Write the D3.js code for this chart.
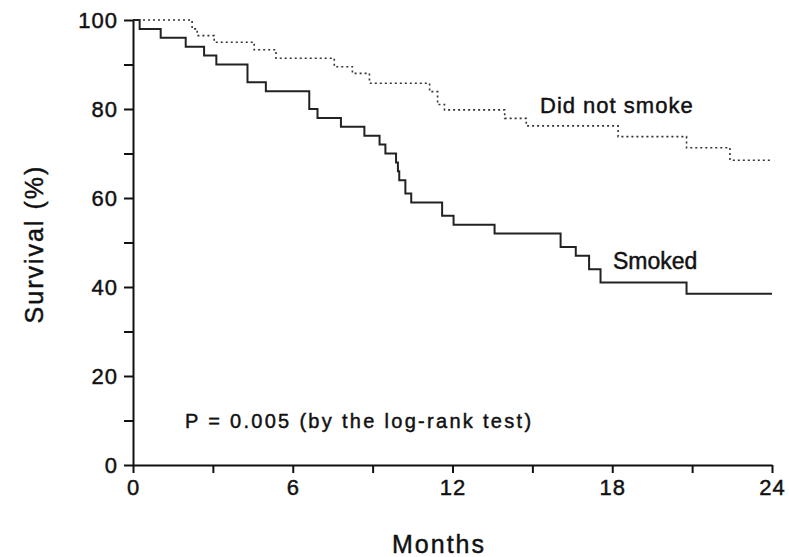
<!DOCTYPE html>
<html>
<head>
<meta charset="utf-8">
<script src="https://cdn.jsdelivr.net/npm/d3@7"></script>
<style>
   body { margin: 0; background: #fff; }
   text { font-family: "Liberation Sans", Arial, sans-serif; fill: #111; stroke: #111; stroke-width: 0.45px; }
</style>
</head>
<body>
<script>
'use strict';

// Kaplan-Meier steps (months, % surviving)
var smokedMonths   = [0, 0.25, 1.04, 1.98, 2.67, 3.13, 4.30, 4.99, 6.62, 6.93, 7.81, 8.69, 9.26, 9.48, 9.88, 9.95, 10.0, 10.23, 10.45, 11.61, 12.04, 13.58, 16.06, 16.63, 17.13, 17.56, 20.79, 24];
var smokedSurvival = [100, 98, 96, 94, 92, 90, 86, 84, 80, 78, 76, 74, 72, 70, 68, 66, 64, 61, 59, 56, 54, 52, 49, 47, 44, 41, 38.5, 38.5];

var nonSmokerMonths   = [0, 2.22, 2.41, 3.05, 4.55, 5.37, 7.56, 8.24, 8.88, 11.14, 11.44, 11.70, 13.96, 14.77, 18.22, 20.79, 22.42, 24];
var nonSmokerSurvival = [100, 98, 96.5, 95, 93.3, 91.4, 89.5, 88, 85.8, 83.9, 81, 79.8, 77.9, 76.2, 73.8, 71.3, 68.5, 68.5];

var monthTicks    = [0, 3, 6, 9, 12, 15, 18, 21, 24];
var survivalTicks = [0, 10, 20, 30, 40, 50, 60, 70, 80, 90, 100];

window.onload = function(){

   var svg = d3.select("body").append("svg")
      .attr("width", 789)
      .attr("height", 557);

   var x = d3.scaleLinear().domain([0, 24]).range([133, 772]);
   var y = d3.scaleLinear().domain([0, 100]).range([465, 20]);

   var xAxis = d3.axisBottom(x)
      .tickValues(monthTicks)
      .tickSize(8)
      .tickSizeOuter(0)
      .tickPadding(6)
      .tickFormat(function(d){ return d % 6 === 0 ? d : ""; });

   var yAxis = d3.axisLeft(y)
      .tickValues(survivalTicks)
      .tickSize(9)
      .tickSizeOuter(0)
      .tickPadding(6)
      .tickFormat(function(d){ return d % 20 === 0 ? d : ""; });

   var gx = svg.append("g")
      .attr("transform", "translate(0," + y(0) + ")")
      .call(xAxis);

   var gy = svg.append("g")
      .attr("transform", "translate(" + x(0) + ",0)")
      .call(yAxis);

   [gx, gy].forEach(function(g){
      g.selectAll("path, line")
         .attr("stroke", "#111")
         .attr("stroke-width", 2);
      g.selectAll("text")
         .attr("fill", "#111")
         .style("font-size", "22px")
         .style("letter-spacing", "1px")
         .attr("font-family", null);
   });

   var stepLine = function(months){
      return d3.line()
         .x(function(d, i){ return x(months[i]); })
         .y(function(d){ return y(d); })
         .curve(d3.curveStepAfter);
   };

   svg.append("path")
      .attr("d", stepLine(nonSmokerMonths)(nonSmokerSurvival))
      .attr("fill", "none")
      .attr("stroke", "#333")
      .attr("stroke-width", 1.6)
      .attr("stroke-dasharray", "2,3");

   svg.append("path")
      .attr("d", stepLine(smokedMonths)(smokedSurvival))
      .attr("fill", "none")
      .attr("stroke", "#222")
      .attr("stroke-width", 2);

   svg.append("text")
      .attr("x", 540)
      .attr("y", 113)
      .style("font-size", "22px")
      .style("letter-spacing", "1px")
      .text("Did not smoke");

   svg.append("text")
      .attr("x", 613)
      .attr("y", 269)
      .style("font-size", "23px")
      .text("Smoked");

   svg.append("text")
      .attr("x", 185)
      .attr("y", 428)
      .style("font-size", "20px")
      .style("letter-spacing", "2.3px")
      .text("P = 0.005 (by the log-rank test)");

   svg.append("text")
      .attr("x", 439)
      .attr("y", 553)
      .attr("text-anchor", "middle")
      .style("font-size", "25px")
      .style("letter-spacing", "2px")
      .text("Months");

   svg.append("text")
      .attr("transform", "translate(43,244) rotate(-90)")
      .attr("text-anchor", "middle")
      .style("font-size", "25px")
      .style("letter-spacing", "2px")
      .text("Survival (%)");
};
</script>
</body>
</html>
